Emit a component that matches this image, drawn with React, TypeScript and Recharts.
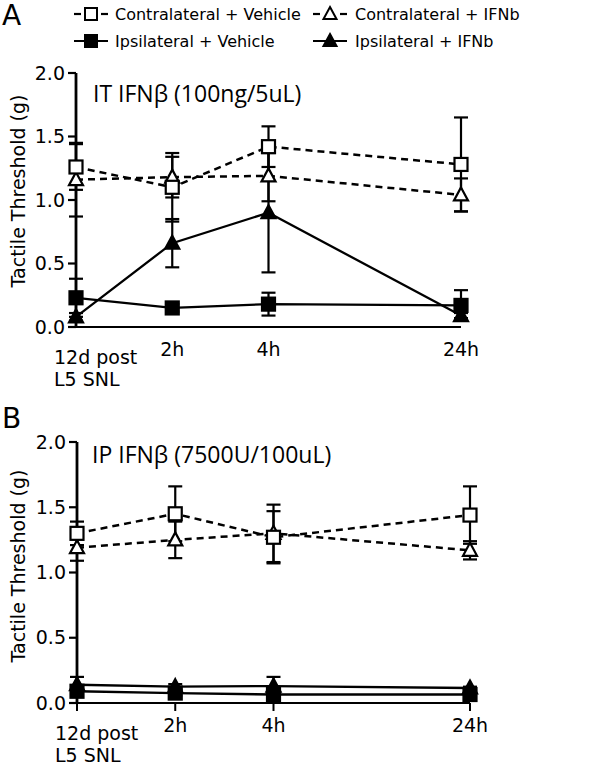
import { LineChart, Line, XAxis, YAxis, ErrorBar } from 'recharts'

// x positions: 12d post, 2h, 4h, 24h (24h drawn at double spacing)
const TIMES = [0, 1, 2, 4]
const TICK_LABELS = ['12d post', '2h', '4h', '24h']
const Y_TICKS = [0, 0.5, 1, 1.5, 2]

// panel A: IT IFNb
const A_CONTRA_VEH = [1.26, 1.1, 1.42, 1.28]
const A_CONTRA_VEH_ERR = [0.18, 0.27, 0.16, 0.37]
const A_CONTRA_IFN = [1.16, 1.18, 1.19, 1.04]
const A_CONTRA_IFN_ERR = [0.29, 0.16, 0.2, 0.13]
const A_IPSI_VEH = [0.23, 0.15, 0.18, 0.17]
const A_IPSI_VEH_ERR = [0.15, 0.03, 0.09, 0.12]
const A_IPSI_IFN = [0.08, 0.66, 0.9, 0.09]
const A_IPSI_IFN_ERR = [0.03, 0.19, 0.47, 0.02]

// panel B: IP IFNb
const B_CONTRA_VEH = [1.3, 1.45, 1.27, 1.44]
const B_CONTRA_VEH_ERR = [0.09, 0.21, 0.2, 0.22]
const B_CONTRA_IFN = [1.19, 1.25, 1.3, 1.17]
const B_CONTRA_IFN_ERR = [0.1, 0.14, 0.22, 0.07]
const B_IPSI_VEH = [0.09, 0.076, 0.065, 0.065]
const B_IPSI_VEH_ERR = [0.03, 0.02, 0.02, 0.01]
const B_IPSI_IFN = [0.14, 0.125, 0.13, 0.115]
const B_IPSI_IFN_ERR = [0.06, 0.02, 0.07, 0.01]

const FONT = '"DejaVu Sans", sans-serif'
const TITLE_FONT = '"Open Sans", sans-serif'

const buildRows = (
  cv: number[], cvErr: number[], ci: number[], ciErr: number[],
  iv: number[], ivErr: number[], ii: number[], iiErr: number[],
) =>
  TIMES.map((t, i) => ({
    t,
    cv: cv[i], cvErr: cvErr[i],
    ci: ci[i], ciErr: ciErr[i],
    iv: iv[i], ivErr: ivErr[i],
    ii: ii[i], iiErr: iiErr[i],
  }))

const dataA = buildRows(A_CONTRA_VEH, A_CONTRA_VEH_ERR, A_CONTRA_IFN, A_CONTRA_IFN_ERR,
  A_IPSI_VEH, A_IPSI_VEH_ERR, A_IPSI_IFN, A_IPSI_IFN_ERR)
const dataB = buildRows(B_CONTRA_VEH, B_CONTRA_VEH_ERR, B_CONTRA_IFN, B_CONTRA_IFN_ERR,
  B_IPSI_VEH, B_IPSI_VEH_ERR, B_IPSI_IFN, B_IPSI_IFN_ERR)

const square = (filled: boolean) => (p: any) => (
  <rect key={p.key ?? p.index} x={p.cx - 6.5} y={p.cy - 6.5} width={13} height={13}
    fill={filled ? '#000' : '#fff'} stroke="#000" strokeWidth={2.2} />
)
const triangle = (filled: boolean) => (p: any) => (
  <polygon key={p.key ?? p.index}
    points={`${p.cx},${p.cy - 7.5} ${p.cx + 7},${p.cy + 5.5} ${p.cx - 7},${p.cy + 5.5}`}
    fill={filled ? '#000' : '#fff'} stroke="#000" strokeWidth={2.2} />
)

const XTick = ({ x, y, payload }: any) => {
  const label = TICK_LABELS[TIMES.indexOf(payload.value)]
  if (payload.value === 0) {
    return (
      <g>
        <text x={x - 22} y={y + 29} fontSize={19} fontFamily={FONT} fill="#000">12d post</text>
        <text x={x - 22} y={y + 51} fontSize={19} fontFamily={FONT} fill="#000">L5 SNL</text>
      </g>
    )
  }
  return (
    <text x={x} y={y + 21} textAnchor="middle" fontSize={19} fontFamily={FONT} fill="#000">
      {label}
    </text>
  )
}

function Panel({ data, height, marginTop, marginRight, yWidth, xTicks }: any) {
  return (
    <LineChart width={600} height={height} data={data}
      margin={{ top: marginTop, right: marginRight, bottom: 0, left: 0 }}>
      <XAxis type="number" dataKey="t" domain={[0, 4]} ticks={TIMES} height={63}
        tick={<XTick />} tickSize={8} tickMargin={0}
        tickLine={xTicks ? { stroke: '#000', strokeWidth: 2 } : false}
        axisLine={{ stroke: '#000', strokeWidth: 2 }} interval={0} />
      <YAxis type="number" domain={[0, 2]} ticks={Y_TICKS} width={yWidth}
        tickFormatter={(v: number) => v.toFixed(1)} tickSize={8} tickMargin={3}
        tick={{ fontSize: 19, fontFamily: FONT, fill: '#000' }}
        tickLine={{ stroke: '#000', strokeWidth: 2.2 }}
        axisLine={{ stroke: '#000', strokeWidth: 2.8 }} interval={0} />
      <Line dataKey="iv" stroke="#000" strokeWidth={2.3} dot={square(true)} isAnimationActive={false}>
        <ErrorBar dataKey="ivErr" width={7} stroke="#000" strokeWidth={2.2} direction="y" />
      </Line>
      <Line dataKey="ii" stroke="#000" strokeWidth={2.3} dot={triangle(true)} isAnimationActive={false}>
        <ErrorBar dataKey="iiErr" width={7} stroke="#000" strokeWidth={2.2} direction="y" />
      </Line>
      <Line dataKey="ci" stroke="#000" strokeWidth={2.5} strokeDasharray="7 5"
        dot={triangle(false)} isAnimationActive={false}>
        <ErrorBar dataKey="ciErr" width={7} stroke="#000" strokeWidth={2.2} direction="y" />
      </Line>
      <Line dataKey="cv" stroke="#000" strokeWidth={2.5} strokeDasharray="7 5"
        dot={square(false)} isAnimationActive={false}>
        <ErrorBar dataKey="cvErr" width={7} stroke="#000" strokeWidth={2.2} direction="y" />
      </Line>
    </LineChart>
  )
}

function LegendIcon({ x, y, shape, filled, dashed }: any) {
  const cx = x + 17
  const mark = shape === 'square'
    ? <rect x={cx - 6} y={y - 6} width={12} height={12} fill={filled ? '#000' : '#fff'} stroke="#000" strokeWidth={2} />
    : <polygon points={`${cx},${y - 7} ${cx + 6.5},${y + 5} ${cx - 6.5},${y + 5}`}
        fill={filled ? '#000' : '#fff'} stroke="#000" strokeWidth={2} />
  return (
    <g>
      {dashed ? (
        <>
          <line x1={x} x2={x + 7} y1={y} y2={y} stroke="#000" strokeWidth={2.2} />
          <line x1={x + 27} x2={x + 34} y1={y} y2={y} stroke="#000" strokeWidth={2.2} />
        </>
      ) : (
        <line x1={x} x2={x + 34} y1={y} y2={y} stroke="#000" strokeWidth={2.2} />
      )}
      {mark}
    </g>
  )
}

export default function App() {
  const txt = { fontFamily: FONT, fill: '#000' }
  return (
    <div style={{ position: 'absolute', left: 0, top: 0, width: 600, height: 766, background: '#fff' }}>
      <div style={{ position: 'absolute', left: 0, top: 50 }}>
        <Panel data={dataA} height={340} marginTop={23} marginRight={139} yWidth={76} xTicks={false} />
      </div>
      <div style={{ position: 'absolute', left: 0, top: 420 }}>
        <Panel data={dataB} height={346} marginTop={22} marginRight={130} yWidth={77} xTicks={true} />
      </div>
      <svg width={600} height={766} style={{ position: 'absolute', left: 0, top: 0, pointerEvents: 'none' }}>
        <text x={2} y={25} fontSize={28} {...txt}>A</text>
        <text x={2} y={428} fontSize={28} {...txt}>B</text>

        <LegendIcon x={74} y={14} shape="square" filled={false} dashed />
        <text x={115} y={20} fontSize={16} {...txt}>Contralateral + Vehicle</text>
        <LegendIcon x={313} y={14} shape="triangle" filled={false} dashed />
        <text x={355} y={20} fontSize={16} {...txt}>Contralateral + IFNb</text>
        <LegendIcon x={74} y={41} shape="square" filled />
        <text x={115} y={47} fontSize={16} {...txt}>Ipsilateral + Vehicle</text>
        <LegendIcon x={313} y={41} shape="triangle" filled />
        <text x={355} y={47} fontSize={16} {...txt}>Ipsilateral + IFNb</text>

        <text x={93} y={102} fontSize={23} fontFamily={TITLE_FONT} fill="#000">IT IFNβ (100ng/5uL)</text>
        <text x={92} y={463} fontSize={23} fontFamily={TITLE_FONT} fill="#000">IP IFNβ (7500U/100uL)</text>

        <text x={25} y={191} fontSize={19} textAnchor="middle" transform="rotate(-90 25 191)" {...txt}>
          Tactile  Threshold  (g)
        </text>
        <text x={25} y={566} fontSize={19} textAnchor="middle" transform="rotate(-90 25 566)" {...txt}>
          Tactile  Threshold  (g)
        </text>
      </svg>
    </div>
  )
}
